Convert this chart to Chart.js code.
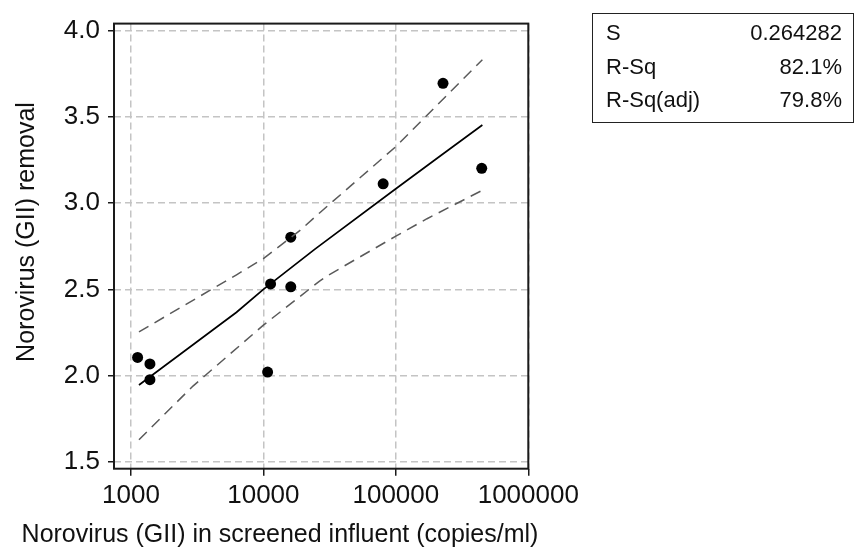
<!DOCTYPE html>
<html>
<head>
<meta charset="utf-8">
<script src="https://cdn.jsdelivr.net/npm/chart.js@4.4.1/dist/chart.umd.min.js"></script>
<style>
  html, body { margin: 0; padding: 0; background: #fff; }
  #wrap { position: relative; width: 856px; height: 552px; overflow: hidden; }
  #stats {
    position: absolute; left: 592px; top: 13px; width: 262px; height: 110px;
    border: 1.5px solid #222; box-sizing: border-box;
    font-family: "Liberation Sans", Arial, sans-serif; font-size: 22px; color: #111;
  }
  #stats .row { position: absolute; left: 13px; right: 11px; height: 26px; line-height: 26px; }
  #stats .row span.v { position: absolute; right: 0; }
</style>
</head>
<body>
<div id="wrap">
  <canvas id="chart" width="856" height="552"></canvas>
  <div id="stats">
    <div class="row" style="top:6px"><span>S</span><span class="v">0.264282</span></div>
    <div class="row" style="top:40px"><span>R-Sq</span><span class="v">82.1%</span></div>
    <div class="row" style="top:73px"><span>R-Sq(adj)</span><span class="v">79.8%</span></div>
  </div>
</div>
<script>
// 観測点 (x: copies/ml, y: removal)
const pointX = [1123, 1391, 1391, 10760, 11330, 16100, 16100, 80200, 227000, 445000];
const pointY = [2.106, 2.068, 1.977, 2.021, 2.532, 2.803, 2.515, 3.112, 3.695, 3.202];

// 回帰直線
const fitX = [1150, 6270, 10000, 24500, 100000, 220000, 450000];
const fitY = [1.946, 2.368, 2.50, 2.734, 3.084, 3.278, 3.453];

// 95% 信頼区間 (上側・下側)
const upperX = [1150, 6270, 10000, 18700, 26400, 100000, 450000];
const upperY = [2.254, 2.585, 2.679, 2.839, 2.942, 3.328, 3.832];
const lowerX = [1150, 2940, 10000, 26400, 31300, 100000, 172000, 450000];
const lowerY = [1.629, 1.940, 2.293, 2.547, 2.585, 2.809, 2.910, 3.075];

// 目盛り
const xTicks = [1000, 10000, 100000, 1000000];
const yTicks = [1.5, 2.0, 2.5, 3.0, 3.5, 4.0];

const xTitle = 'Norovirus (GII) in screened influent (copies/ml)';
const yTitle = 'Norovirus (GII) removal';

const FONT = '"Liberation Sans", Arial, sans-serif';

function toXY(xs, ys) {
    return xs.map((x, i) => ({ x: x, y: ys[i] }));
}

// 枠線と軸タイトルを描く
const framePlugin = {
    id: 'frame',
    afterDraw(chart) {
        const { ctx, chartArea: a } = chart;
        ctx.save();
        ctx.strokeStyle = '#1a1a1a';
        ctx.lineWidth = 2;
        ctx.strokeRect(a.left, a.top, a.right - a.left, a.bottom - a.top);

        ctx.fillStyle = '#111';
        ctx.font = '25px ' + FONT;
        ctx.textAlign = 'center';
        ctx.textBaseline = 'middle';
        ctx.fillText(xTitle, 280, 535);

        ctx.translate(27, 232);
        ctx.rotate(-Math.PI / 2);
        ctx.fillText(yTitle, 0, 0);
        ctx.restore();
    }
};

const lineStyle = (color, dash, width) => ({
    type: 'line',
    borderColor: color,
    borderWidth: width,
    borderDash: dash,
    pointRadius: 0,
    fill: false,
    tension: 0
});

new Chart(document.getElementById('chart'), {
    data: {
        datasets: [
            Object.assign({ data: toXY(upperX, upperY) }, lineStyle('#5a5a5a', [11, 7], 1.5)),
            Object.assign({ data: toXY(lowerX, lowerY) }, lineStyle('#5a5a5a', [11, 7], 1.5)),
            Object.assign({ data: toXY(fitX, fitY) }, lineStyle('#000', [], 1.7)),
            {
                type: 'scatter',
                data: toXY(pointX, pointY),
                pointRadius: 5.5,
                pointBackgroundColor: '#000',
                pointBorderColor: '#000',
                pointBorderWidth: 0
            }
        ]
    },
    options: {
        responsive: false,
        animation: false,
        events: [],
        layout: { padding: { top: 12, right: 327.7, left: 0, bottom: 0 } },
        plugins: { legend: { display: false }, tooltip: { enabled: false } },
        scales: {
            x: {
                type: 'logarithmic',
                min: 745,
                max: 1000000,
                afterBuildTicks: s => { s.ticks = xTicks.map(v => ({ value: v })); },
                afterFit: s => { s.height = 83.3; },
                ticks: {
                    color: '#111',
                    font: { family: FONT, size: 26 },
                    padding: 5,
                    maxRotation: 0,
                    autoSkip: false,
                    callback: v => String(v)
                },
                grid: {
                    color: '#c4c4c4',
                    lineWidth: 1.5,
                    tickColor: '#1a1a1a',
                    tickWidth: 1.5,
                    tickLength: 7,
                    tickBorderDash: []
                },
                border: { display: false, dash: [7, 4] }
            },
            y: {
                type: 'linear',
                min: 1.461,
                max: 4.041,
                afterBuildTicks: s => { s.ticks = yTicks.map(v => ({ value: v })); },
                afterFit: s => { s.width = 114; },
                ticks: {
                    color: '#111',
                    font: { family: FONT, size: 26 },
                    padding: 8,
                    callback: v => Number(v).toFixed(1)
                },
                grid: {
                    color: '#c4c4c4',
                    lineWidth: 1.5,
                    tickColor: '#1a1a1a',
                    tickWidth: 1.5,
                    tickLength: 6,
                    tickBorderDash: []
                },
                border: { display: false, dash: [7, 4] }
            }
        }
    },
    plugins: [framePlugin]
});
</script>
</body>
</html>
